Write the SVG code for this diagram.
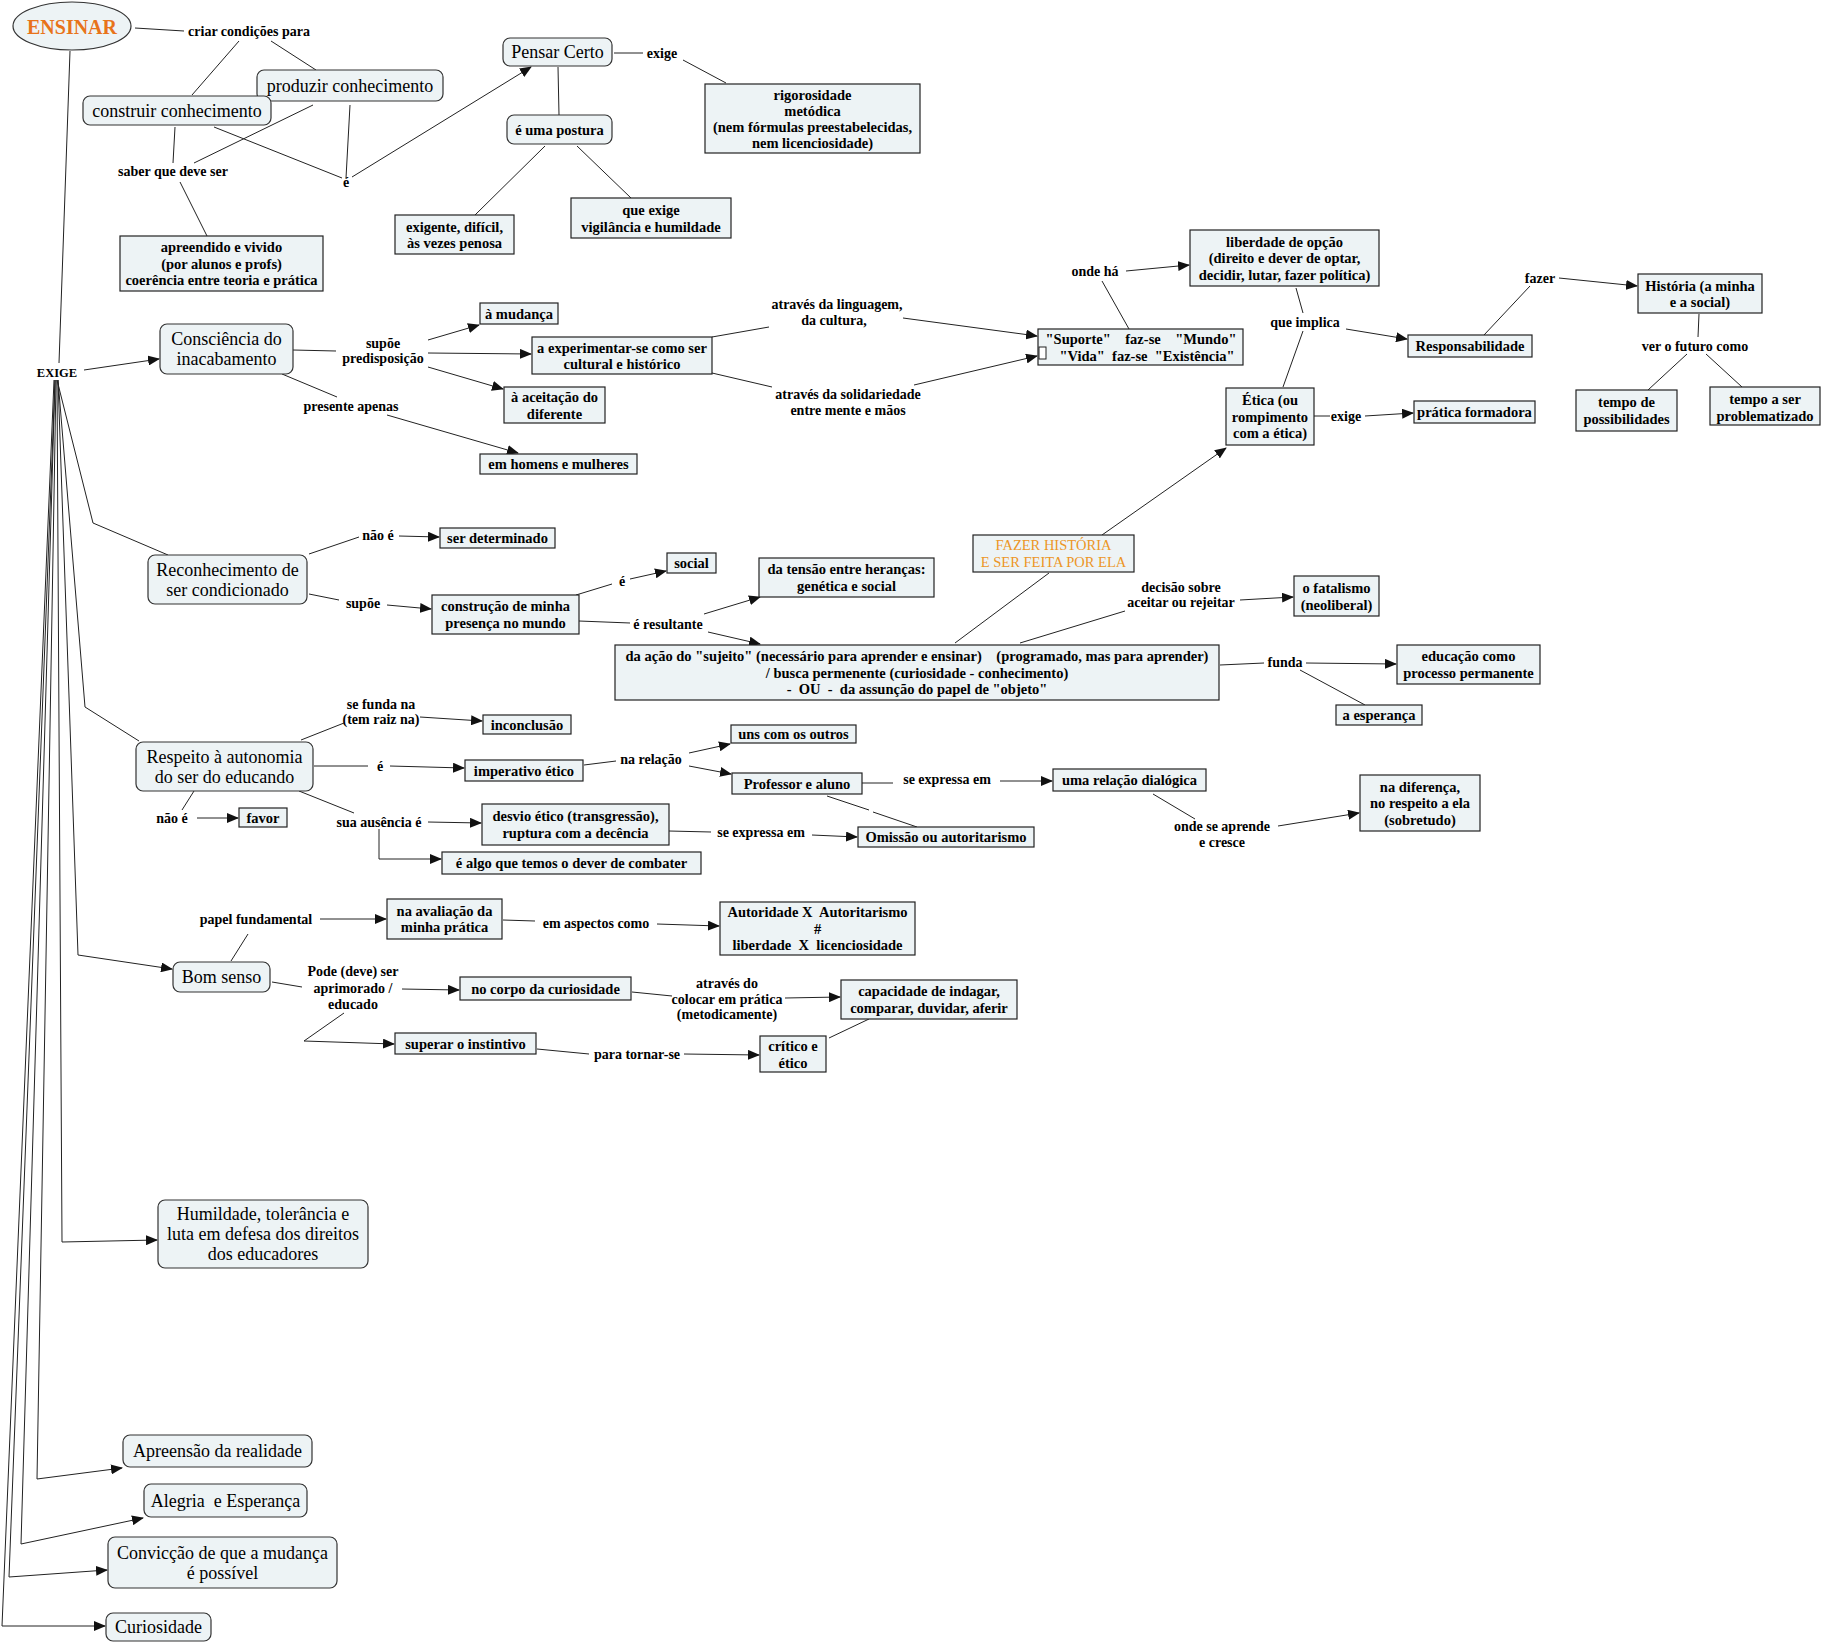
<svg xmlns="http://www.w3.org/2000/svg" width="1822" height="1644" viewBox="0 0 1822 1644">
<style>
.r{fill:#EDF3F5;stroke:#333;stroke-width:1.2}
.b{fill:#EDF3F5;stroke:#222;stroke-width:1.2}
text{font-family:"Liberation Serif","Times New Roman",serif;fill:#000;text-anchor:middle}
.n{font-size:18px}
.t{font-size:14.5px;font-weight:bold}
.l{font-size:14px;font-weight:bold}
.o{font-size:14.5px;fill:#EC9626}
.c line,.c polyline{stroke:#222;stroke-width:1;fill:none}
.a{marker-end:url(#ah)}
</style>
<defs>
<marker id="ah" markerUnits="userSpaceOnUse" markerWidth="12" markerHeight="10" refX="11" refY="5" orient="auto"><path d="M0,0 L12,5 L0,10 z" fill="#111"/></marker>
</defs>
<rect width="1822" height="1644" fill="#fff"/>
<g id="connectors" class="c">
<line x1="135" y1="28" x2="184" y2="31"/>
<line x1="239" y1="41" x2="192" y2="95"/>
<line x1="271" y1="41" x2="316" y2="70"/>
<line x1="175" y1="127" x2="173" y2="163"/>
<line x1="313" y1="105" x2="194" y2="163"/>
<line x1="214" y1="127" x2="342" y2="178"/>
<line x1="350" y1="105" x2="346" y2="178"/>
<line x1="180" y1="182" x2="207" y2="236"/>
<line class="a" x1="352" y1="177" x2="531" y2="67"/>
<line x1="614" y1="53" x2="643" y2="53"/>
<line x1="683" y1="60" x2="726" y2="83"/>
<line x1="558" y1="67" x2="559" y2="115"/>
<line x1="545" y1="146" x2="475" y2="215"/>
<line x1="577" y1="146" x2="631" y2="198"/>
<line x1="70" y1="51" x2="59" y2="363"/>
<polyline points="57,380 93,523 168,555"/>
<polyline points="58,380 85,707 139,741"/>
<polyline class="a" points="58,380 78,955 172,969"/>
<polyline class="a" points="57,380 62,1242 157,1240"/>
<polyline class="a" points="56,380 37,1479 122,1468"/>
<polyline class="a" points="55,380 21,1544 143,1518"/>
<polyline class="a" points="55,380 9,1577 107,1570"/>
<polyline class="a" points="54,380 2,1626 105,1626"/>
<line class="a" x1="84" y1="370" x2="159" y2="359"/>
<line x1="293" y1="350" x2="336" y2="351"/>
<line class="a" x1="428" y1="340" x2="479" y2="325"/>
<line class="a" x1="428" y1="353" x2="531" y2="354"/>
<line class="a" x1="428" y1="367" x2="503" y2="389"/>
<line x1="282" y1="374" x2="337" y2="397"/>
<line class="a" x1="387" y1="415" x2="518" y2="453"/>
<line x1="712" y1="337" x2="769" y2="327"/>
<line class="a" x1="903" y1="318" x2="1037" y2="336"/>
<line x1="712" y1="373" x2="772" y2="387"/>
<line class="a" x1="914" y1="385" x2="1037" y2="356"/>
<line x1="1129" y1="329" x2="1102" y2="281"/>
<line class="a" x1="1126" y1="271" x2="1189" y2="265"/>
<line x1="1296" y1="288" x2="1303" y2="313"/>
<line x1="1303" y1="331" x2="1283" y2="387"/>
<line class="a" x1="1346" y1="329" x2="1407" y2="339"/>
<line x1="1484" y1="335" x2="1530" y2="286"/>
<line class="a" x1="1559" y1="278" x2="1637" y2="286"/>
<line x1="1699" y1="314" x2="1698" y2="337"/>
<line x1="1687" y1="354" x2="1648" y2="390"/>
<line x1="1706" y1="354" x2="1742" y2="387"/>
<line x1="1314" y1="416" x2="1330" y2="416"/>
<line class="a" x1="1365" y1="416" x2="1413" y2="413"/>
<line x1="309" y1="554" x2="359" y2="537"/>
<line class="a" x1="399" y1="536" x2="439" y2="537"/>
<line x1="309" y1="594" x2="339" y2="600"/>
<line class="a" x1="387" y1="605" x2="431" y2="609"/>
<line x1="576" y1="595" x2="612" y2="584"/>
<line class="a" x1="630" y1="579" x2="666" y2="571"/>
<line x1="579" y1="621" x2="630" y2="623"/>
<line class="a" x1="704" y1="614" x2="760" y2="597"/>
<line class="a" x1="708" y1="632" x2="760" y2="644"/>
<line x1="955" y1="643" x2="1049" y2="573"/>
<line class="a" x1="1102" y1="535" x2="1226" y2="448"/>
<line x1="1020" y1="643" x2="1125" y2="611"/>
<line class="a" x1="1240" y1="600" x2="1293" y2="597"/>
<line x1="1220" y1="665" x2="1264" y2="663"/>
<line class="a" x1="1306" y1="663" x2="1396" y2="664"/>
<line x1="1300" y1="670" x2="1365" y2="705"/>
<line x1="301" y1="740" x2="344" y2="723"/>
<line class="a" x1="420" y1="717" x2="482" y2="721"/>
<line x1="314" y1="766" x2="368" y2="766"/>
<line class="a" x1="390" y1="766" x2="464" y2="768"/>
<line x1="584" y1="765" x2="616" y2="761"/>
<line class="a" x1="689" y1="753" x2="730" y2="744"/>
<line class="a" x1="689" y1="766" x2="731" y2="774"/>
<line x1="862" y1="783" x2="893" y2="783"/>
<line class="a" x1="1000" y1="781" x2="1052" y2="781"/>
<line x1="827" y1="796" x2="869" y2="810"/>
<line x1="873" y1="812" x2="917" y2="827"/>
<line x1="194" y1="791" x2="182" y2="810"/>
<line class="a" x1="197" y1="818" x2="238" y2="818"/>
<line x1="299" y1="791" x2="354" y2="813"/>
<line class="a" x1="428" y1="822" x2="481" y2="823"/>
<polyline class="a" points="379,829 379,859 441,859"/>
<line x1="669" y1="831" x2="711" y2="832"/>
<line class="a" x1="812" y1="835" x2="857" y2="837"/>
<line x1="1153" y1="794" x2="1195" y2="819"/>
<line class="a" x1="1278" y1="826" x2="1359" y2="813"/>
<line x1="231" y1="961" x2="248" y2="934"/>
<line class="a" x1="320" y1="919" x2="386" y2="919"/>
<line x1="503" y1="920" x2="535" y2="921"/>
<line class="a" x1="657" y1="924" x2="719" y2="926"/>
<line x1="272" y1="982" x2="302" y2="987"/>
<line class="a" x1="402" y1="989" x2="459" y2="990"/>
<polyline class="a" points="344,1013 304,1041 394,1044"/>
<line x1="632" y1="992" x2="672" y2="996"/>
<line class="a" x1="785" y1="998" x2="840" y2="997"/>
<line x1="537" y1="1049" x2="589" y2="1054"/>
<line class="a" x1="684" y1="1054" x2="759" y2="1055"/>
<line x1="829" y1="1038" x2="869" y2="1019"/>
</g>
<g id="labels">
<text class="l" x="249" y="36">criar condições para</text>
<text class="l" x="173" y="176">saber que deve ser</text>
<text class="l" x="346" y="187">é</text>
<text class="l" x="662" y="58">exige</text>
<text class="l" x="57" y="377" style="font-size:12.5px">EXIGE</text>
<text class="l" x="383" y="348">supõe</text>
<text class="l" x="383" y="363">predisposição</text>
<text class="l" x="351" y="411">presente apenas</text>
<text class="l" x="837" y="309">através da linguagem,</text>
<text class="l" x="834" y="325">da cultura,</text>
<text class="l" x="848" y="399">através da solidariedade</text>
<text class="l" x="848" y="415">entre mente e mãos</text>
<text class="l" x="1095" y="276">onde há</text>
<text class="l" x="1305" y="327">que implica</text>
<text class="l" x="1540" y="283">fazer</text>
<text class="l" x="1695" y="351">ver o futuro como</text>
<text class="l" x="1346" y="421">exige</text>
<text class="l" x="378" y="540">não é</text>
<text class="l" x="363" y="608">supõe</text>
<text class="l" x="622" y="586">é</text>
<text class="l" x="668" y="629">é resultante</text>
<text class="l" x="1181" y="592">decisão sobre</text>
<text class="l" x="1181" y="607">aceitar ou rejeitar</text>
<text class="l" x="1285" y="667">funda</text>
<text class="l" x="381" y="709">se funda na</text>
<text class="l" x="381" y="724">(tem raiz na)</text>
<text class="l" x="380" y="771">é</text>
<text class="l" x="651" y="764">na relação</text>
<text class="l" x="947" y="784">se expressa em</text>
<text class="l" x="172" y="823">não é</text>
<text class="l" x="379" y="827">sua ausência é</text>
<text class="l" x="761" y="837">se expressa em</text>
<text class="l" x="1222" y="831">onde se aprende</text>
<text class="l" x="1222" y="847">e cresce</text>
<text class="l" x="256" y="924">papel fundamental</text>
<text class="l" x="596" y="928">em aspectos como</text>
<text class="l" x="353" y="976">Pode (deve) ser</text>
<text class="l" x="353" y="993">aprimorado /</text>
<text class="l" x="353" y="1009">educado</text>
<text class="l" x="727" y="988">através do</text>
<text class="l" x="727" y="1004">colocar em prática</text>
<text class="l" x="727" y="1019">(metodicamente)</text>
<text class="l" x="637" y="1059">para tornar-se</text>
</g>
<g id="n-ensinar"><ellipse cx="72" cy="26" rx="59" ry="24" class="r"/><text x="72" y="34" style="font-size:20px;font-weight:bold;fill:#E8731A">ENSINAR</text></g>
<g id="n-produzir"><rect class="r" x="257" y="70" width="186" height="31" rx="7"/><text class="n" x="350" y="92">produzir conhecimento</text></g>
<g id="n-construir"><rect class="r" x="83" y="96" width="188" height="29" rx="7"/><text class="n" x="177" y="117">construir conhecimento</text></g>
<g id="n-apreendido"><rect class="b" x="120" y="236" width="203" height="55"/><text class="t" x="221.5" y="252">apreendido e vivido</text><text class="t" x="221.5" y="268.5">(por alunos e profs)</text><text class="t" x="221.5" y="285">coerência entre teoria e prática</text></g>
<g id="n-pensar"><rect class="r" x="503" y="38" width="109" height="28" rx="7"/><text class="n" x="557.5" y="58">Pensar Certo</text></g>
<g id="n-postura"><rect class="r" x="507" y="115" width="105" height="29" rx="7"/><text class="t" x="559.5" y="135">é uma postura</text></g>
<g id="n-exigente"><rect class="b" x="395" y="215" width="119" height="39"/><text class="t" x="454.5" y="231.5">exigente, difícil,</text><text class="t" x="454.5" y="248">às vezes penosa</text></g>
<g id="n-queexige"><rect class="b" x="571" y="198" width="160" height="40"/><text class="t" x="651" y="215">que exige</text><text class="t" x="651" y="231.5">vigilância e humildade</text></g>
<g id="n-rigor"><rect class="b" x="705" y="84" width="215" height="69"/><text class="t" x="812.5" y="100">rigorosidade</text><text class="t" x="812.5" y="116">metódica</text><text class="t" x="812.5" y="132">(nem fórmulas preestabelecidas,</text><text class="t" x="812.5" y="148">nem licenciosidade)</text></g>
<g id="n-consciencia"><rect class="r" x="160" y="324" width="133" height="50" rx="7"/><text class="n" x="226.5" y="345">Consciência do</text><text class="n" x="226.5" y="365">inacabamento</text></g>
<g id="n-mudanca"><rect class="b" x="480" y="303" width="78" height="21"/><text class="t" x="519" y="318.5">à mudança</text></g>
<g id="n-experimentar"><rect class="b" x="532" y="337" width="180" height="37"/><text class="t" x="622" y="352.5">a experimentar-se como ser</text><text class="t" x="622" y="369">cultural e histórico</text></g>
<g id="n-aceitacao"><rect class="b" x="504" y="387" width="101" height="36"/><text class="t" x="554.5" y="402">à aceitação do</text><text class="t" x="554.5" y="418.5">diferente</text></g>
<g id="n-homens"><rect class="b" x="480" y="454" width="157" height="20"/><text class="t" x="558.5" y="469">em homens e mulheres</text></g>
<g id="n-suporte"><rect class="b" x="1038" y="329" width="205" height="36"/><rect x="1039" y="347" width="7" height="12" fill="#fff" stroke="#222" stroke-width="1"/><text class="t" x="1141" y="344" xml:space="preserve">"Suporte"    faz-se    "Mundo"</text><text class="t" x="1147" y="360.5" xml:space="preserve">"Vida"  faz-se  "Existência"</text></g>
<g id="n-liberdade"><rect class="b" x="1190" y="230" width="189" height="56"/><text class="t" x="1284.5" y="246.5">liberdade de opção</text><text class="t" x="1284.5" y="263">(direito e dever de optar,</text><text class="t" x="1284.5" y="279.5">decidir, lutar, fazer política)</text></g>
<g id="n-responsabilidade"><rect class="b" x="1408" y="335" width="124" height="22"/><text class="t" x="1470" y="351">Responsabilidade</text></g>
<g id="n-historia"><rect class="b" x="1638" y="274" width="124" height="39"/><text class="t" x="1700" y="290.5">História (a minha</text><text class="t" x="1700" y="307">e a social)</text></g>
<g id="n-possibilidades"><rect class="b" x="1576" y="390" width="101" height="41"/><text class="t" x="1626.5" y="407">tempo de</text><text class="t" x="1626.5" y="423.5">possibilidades</text></g>
<g id="n-problematizado"><rect class="b" x="1710" y="387" width="110" height="38"/><text class="t" x="1765" y="404">tempo a ser</text><text class="t" x="1765" y="420.5">problematizado</text></g>
<g id="n-etica"><rect class="b" x="1226" y="388" width="88" height="57"/><text class="t" x="1270" y="405">Ética (ou</text><text class="t" x="1270" y="421.5">rompimento</text><text class="t" x="1270" y="438">com a ética)</text></g>
<g id="n-pratica"><rect class="b" x="1414" y="401" width="121" height="22"/><text class="t" x="1474.5" y="417">prática formadora</text></g>
<g id="n-reconhecimento"><rect class="r" x="148" y="555" width="159" height="49" rx="7"/><text class="n" x="227.5" y="575.5">Reconhecimento de</text><text class="n" x="227.5" y="595.5">ser condicionado</text></g>
<g id="n-determinado"><rect class="b" x="440" y="528" width="115" height="20"/><text class="t" x="497.5" y="543">ser determinado</text></g>
<g id="n-construcao"><rect class="b" x="432" y="595" width="147" height="39"/><text class="t" x="505.5" y="611">construção de minha</text><text class="t" x="505.5" y="627.5">presença no mundo</text></g>
<g id="n-social"><rect class="b" x="667" y="553" width="49" height="20"/><text class="t" x="691.5" y="568">social</text></g>
<g id="n-tensao"><rect class="b" x="759" y="558" width="175" height="39"/><text class="t" x="846.5" y="574">da tensão entre heranças:</text><text class="t" x="846.5" y="590.5">genética e social</text></g>
<g id="n-fazer"><rect class="b" x="973" y="535" width="161" height="37"/><text class="o" x="1053.5" y="550">FAZER HISTÓRIA</text><text class="o" x="1053.5" y="567">E SER FEITA POR ELA</text></g>
<g id="n-fatalismo"><rect class="b" x="1294" y="576" width="85" height="40"/><text class="t" x="1336.5" y="593">o fatalismo</text><text class="t" x="1336.5" y="609.5">(neoliberal)</text></g>
<g id="n-acao"><rect class="b" x="615" y="645" width="604" height="55"/><text class="t" x="917" y="661" xml:space="preserve">da ação do "sujeito" (necessário para aprender e ensinar)    (programado, mas para aprender)</text><text class="t" x="917" y="677.5">/ busca permenente (curiosidade - conhecimento)</text><text class="t" x="917" y="694" xml:space="preserve">-  OU  -  da assunção do papel de "objeto"</text></g>
<g id="n-educacao"><rect class="b" x="1397" y="645" width="143" height="39"/><text class="t" x="1468.5" y="661">educação como</text><text class="t" x="1468.5" y="677.5">processo permanente</text></g>
<g id="n-esperanca"><rect class="b" x="1336" y="705" width="86" height="20"/><text class="t" x="1379" y="720">a esperança</text></g>
<g id="n-respeito"><rect class="r" x="136" y="742" width="177" height="49" rx="7"/><text class="n" x="224.5" y="762.5">Respeito à autonomia</text><text class="n" x="224.5" y="782.5">do ser do educando</text></g>
<g id="n-inconclusao"><rect class="b" x="483" y="715" width="88" height="19"/><text class="t" x="527" y="729.5">inconclusão</text></g>
<g id="n-imperativo"><rect class="b" x="465" y="760" width="118" height="21"/><text class="t" x="524" y="775.5">imperativo ético</text></g>
<g id="n-uns"><rect class="b" x="731" y="725" width="125" height="18"/><text class="t" x="793.5" y="739">uns com os outros</text></g>
<g id="n-professor"><rect class="b" x="732" y="773" width="130" height="21"/><text class="t" x="797" y="788.5">Professor e aluno</text></g>
<g id="n-dialogica"><rect class="b" x="1053" y="769" width="153" height="22"/><text class="t" x="1129.5" y="785">uma relação dialógica</text></g>
<g id="n-omissao"><rect class="b" x="858" y="827" width="176" height="20"/><text class="t" x="946" y="842">Omissão ou autoritarismo</text></g>
<g id="n-diferenca"><rect class="b" x="1360" y="775" width="120" height="56"/><text class="t" x="1420" y="791.5">na diferença,</text><text class="t" x="1420" y="808">no respeito a ela</text><text class="t" x="1420" y="824.5">(sobretudo)</text></g>
<g id="n-favor"><rect class="b" x="239" y="808" width="48" height="19"/><text class="t" x="263" y="822.5">favor</text></g>
<g id="n-desvio"><rect class="b" x="482" y="804" width="187" height="41"/><text class="t" x="575.5" y="821">desvio ético (transgressão),</text><text class="t" x="575.5" y="837.5">ruptura com a decência</text></g>
<g id="n-combater"><rect class="b" x="442" y="852" width="259" height="22"/><text class="t" x="571.5" y="868">é algo que temos o dever de combater</text></g>
<g id="n-avaliacao"><rect class="b" x="387" y="899" width="115" height="40"/><text class="t" x="444.5" y="915.5">na avaliação da</text><text class="t" x="444.5" y="932">minha prática</text></g>
<g id="n-autoridade"><rect class="b" x="720" y="902" width="195" height="53"/><text class="t" x="817.5" y="917" xml:space="preserve">Autoridade X  Autoritarismo</text><text class="t" x="817.5" y="933.5">#</text><text class="t" x="817.5" y="950" xml:space="preserve">liberdade  X  licenciosidade</text></g>
<g id="n-bomsenso"><rect class="r" x="173" y="962" width="97" height="30" rx="7"/><text class="n" x="221.5" y="983">Bom senso</text></g>
<g id="n-corpo"><rect class="b" x="460" y="977" width="171" height="23"/><text class="t" x="545.5" y="993.5">no corpo da curiosidade</text></g>
<g id="n-capacidade"><rect class="b" x="841" y="980" width="176" height="39"/><text class="t" x="929" y="996">capacidade de indagar,</text><text class="t" x="929" y="1012.5">comparar, duvidar, aferir</text></g>
<g id="n-superar"><rect class="b" x="395" y="1033" width="141" height="21"/><text class="t" x="465.5" y="1048.5">superar o instintivo</text></g>
<g id="n-critico"><rect class="b" x="760" y="1036" width="66" height="36"/><text class="t" x="793" y="1051">crítico e</text><text class="t" x="793" y="1067.5">ético</text></g>
<g id="n-humildade"><rect class="r" x="158" y="1200" width="210" height="68" rx="7"/><text class="n" x="263" y="1220">Humildade, tolerância e</text><text class="n" x="263" y="1240">luta em defesa dos direitos</text><text class="n" x="263" y="1260">dos educadores</text></g>
<g id="n-apreensao"><rect class="r" x="123" y="1435" width="189" height="32" rx="7"/><text class="n" x="217.5" y="1457">Apreensão da realidade</text></g>
<g id="n-alegria"><rect class="r" x="144" y="1484" width="163" height="33" rx="7"/><text class="n" x="225.5" y="1506.5" xml:space="preserve">Alegria  e Esperança</text></g>
<g id="n-conviccao"><rect class="r" x="108" y="1537" width="229" height="51" rx="7"/><text class="n" x="222.5" y="1558.5">Convicção de que a mudança</text><text class="n" x="222.5" y="1578.5">é possível</text></g>
<g id="n-curiosidade"><rect class="r" x="106" y="1613" width="105" height="28" rx="7"/><text class="n" x="158.5" y="1633">Curiosidade</text></g>
</svg>
